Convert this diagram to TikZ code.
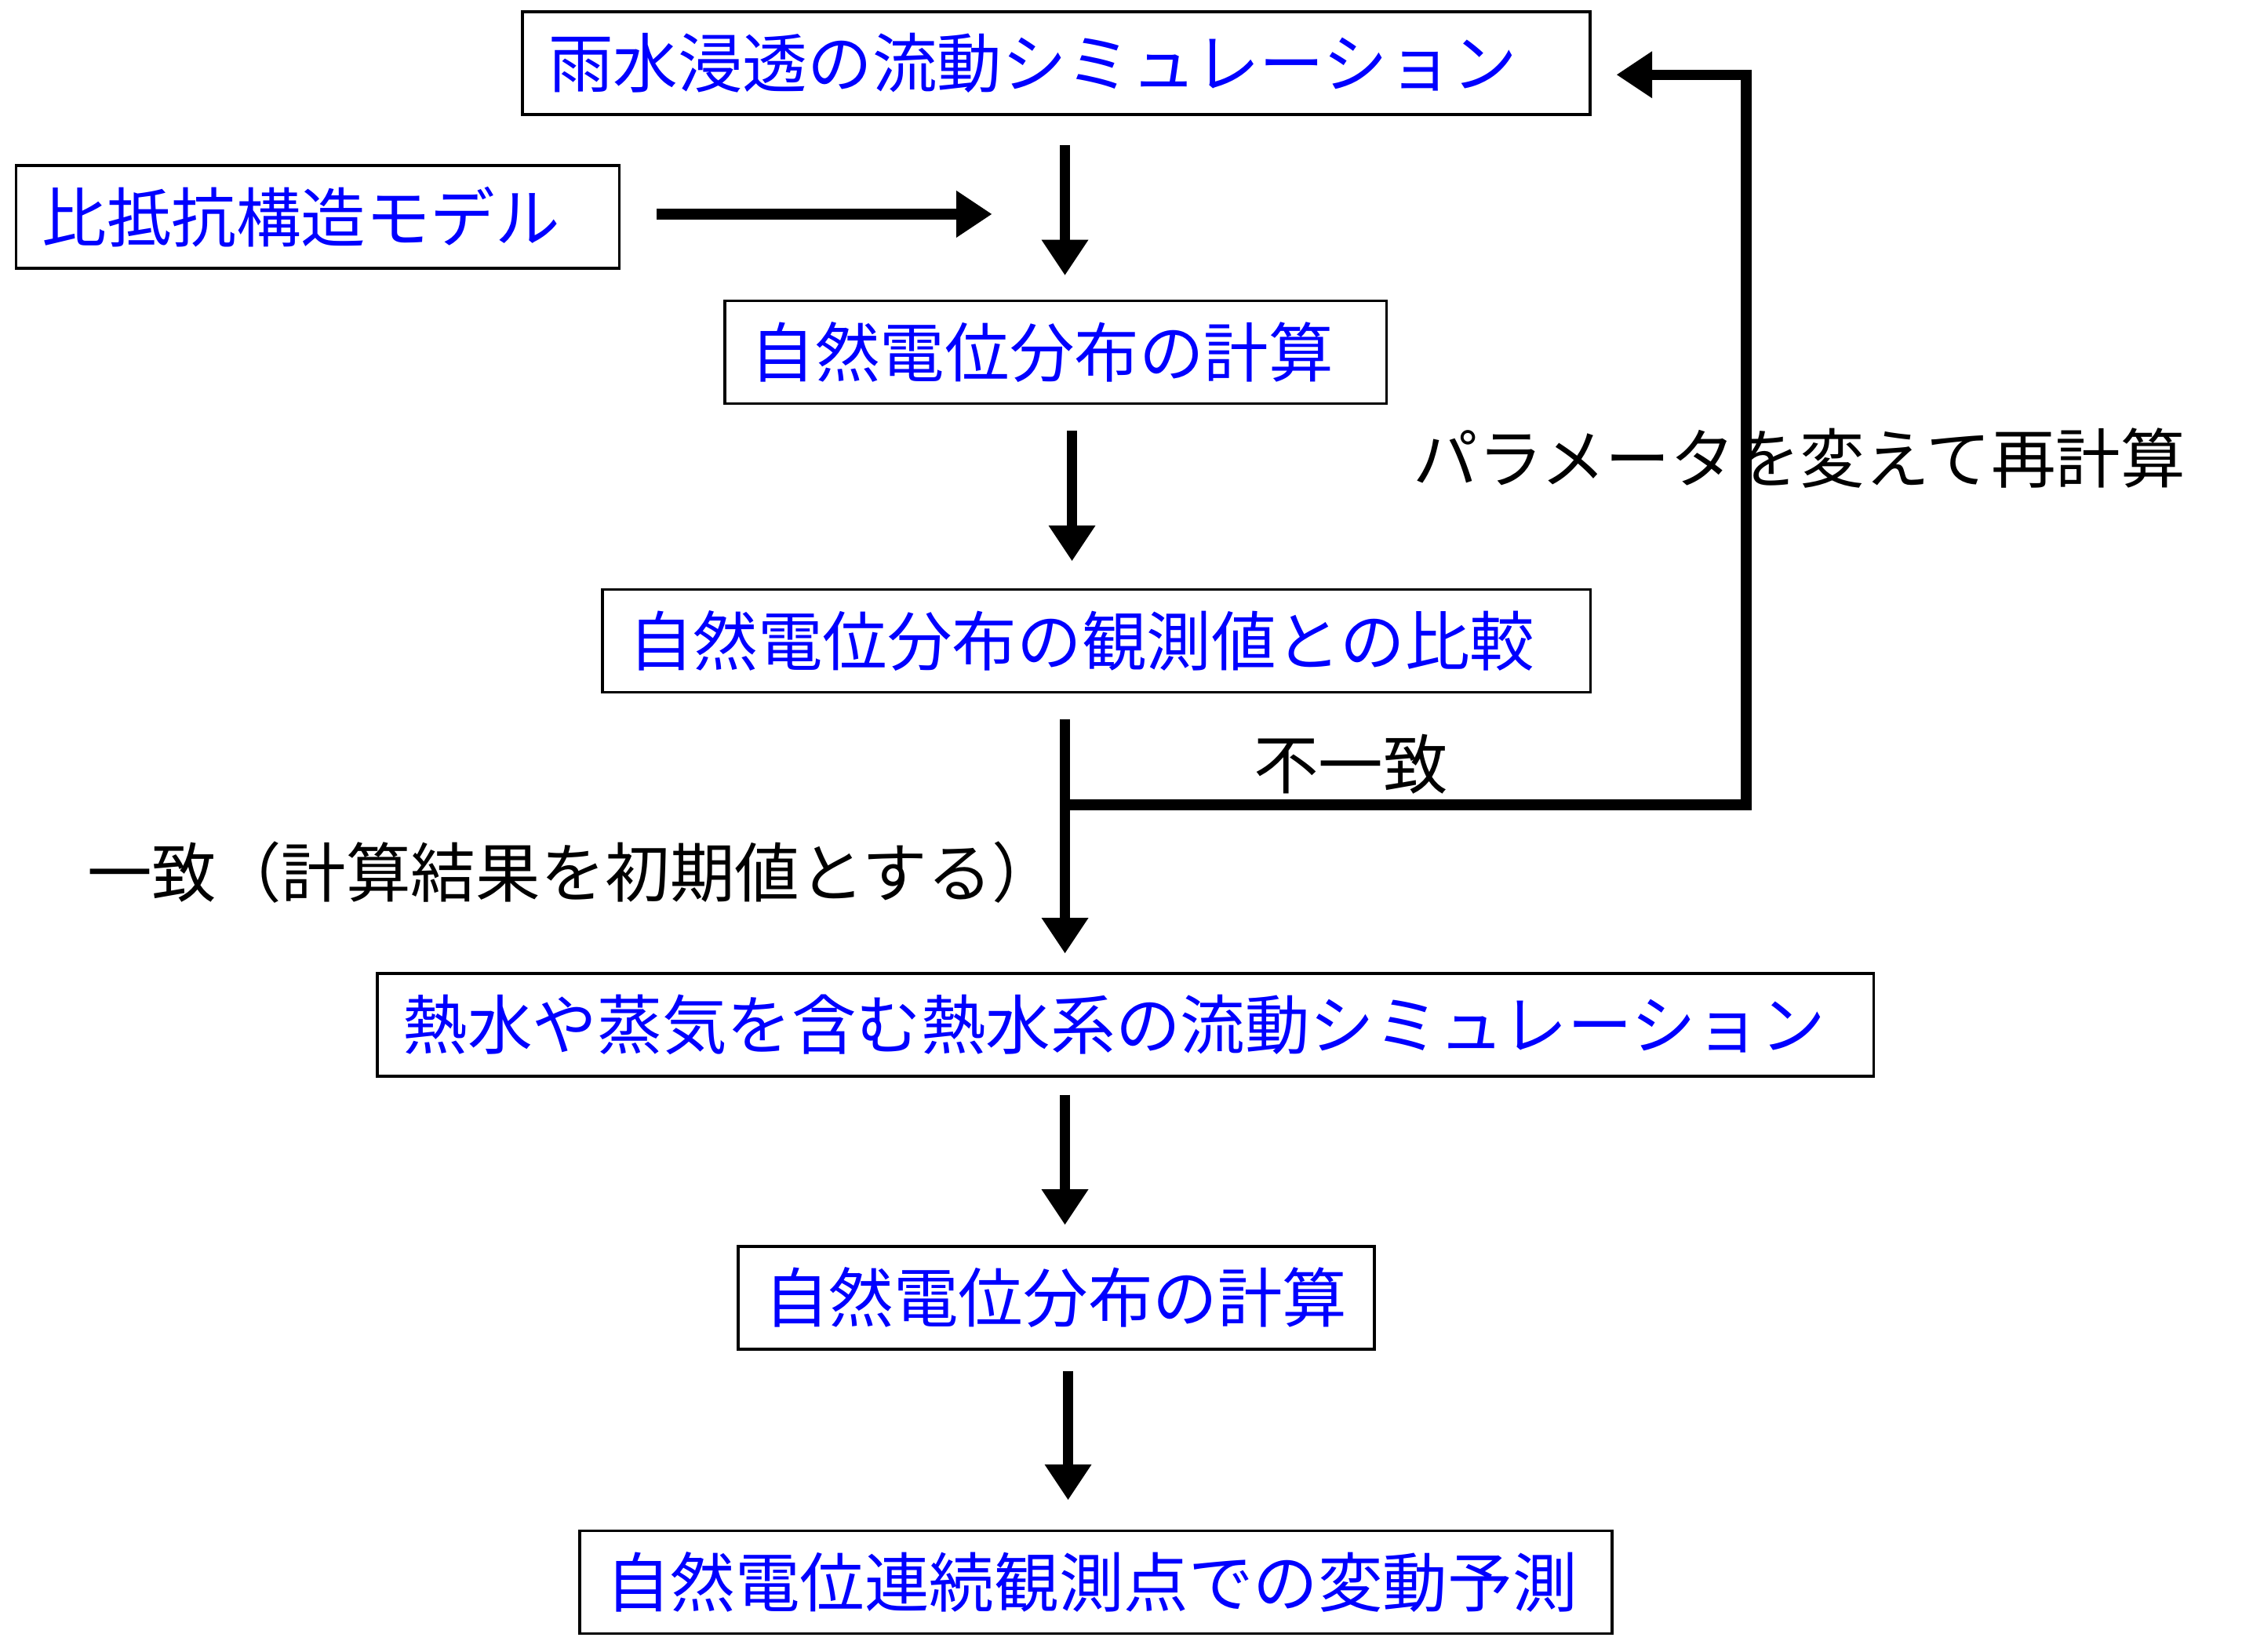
\documentclass[tikz,border=0pt]{standalone}
\usepackage{fontspec}
\setmainfont{Noto Sans CJK JP}
\usetikzlibrary{arrows.meta}

\begin{document}
\begin{tikzpicture}[x=0.01832cm,y=-0.01832cm,
  font=\fontsize{23.5pt}{28pt}\selectfont,
  box/.style={draw,line width=1pt,text=blue,align=left,inner xsep=0.33cm,minimum height=1.31cm},
  arr/.style={line width=3.8pt,-{Triangle[length=0.45cm,width=0.6cm,line width=0pt]}}]
\useasboundingbox (0,0) rectangle (1560,1149);
%
% boxes
\node[box,text width=12.95cm] (rain) at (735,44) {雨水浸透の流動シミュレーション};
\node[box,text width=7.03cm] (model) at (221,151) {比抵抗構造モデル};
\node[box,text width=7.78cm] (calcA) at (734.5,245) {自然電位分布の計算};
\node[box,text width=11.94cm] (comp) at (763,446) {自然電位分布の観測値との比較};
\node[box,text width=18.42cm] (hydro) at (783,713) {熱水や蒸気を含む熱水系の流動シミュレーション};
\node[box,text width=7.45cm] (calcB) at (735,903) {自然電位分布の計算};
\node[box,text width=12.5cm] (pred) at (762.5,1101) {自然電位連続観測点での変動予測};

% labels
\node (ng) at (940,532) {不一致};
\node (redo) at (1252,319) {パラメータを変えて再計算};
\node (ok) at (398,607) {一致（計算結果を初期値とする）};

% arrows
\coordinate (spine) at (741,0);
\coordinate (join) at (690,149);
\coordinate (split) at (741,560);
\coordinate (turn) at (1215,560);
\coordinate (back) at (1125,52);
\draw[arr,shorten <=0.46cm] (model.east |- join) -- (join);
\draw[arr,shorten <=0.37cm,shorten >=0.31cm] (rain.south -| spine) -- (calcA.north -| spine);
\draw[arr,shorten <=0.33cm,shorten >=0.35cm] ([xshift=0.09cm]calcA.south -| spine) -- ([xshift=0.09cm]comp.north -| spine);
\draw[arr,shorten <=0.33cm,shorten >=0.24cm] (comp.south -| spine) -- (hydro.north -| spine);
\draw[arr] (split) -- (turn) |- (back);
\draw[arr,shorten <=0.22cm,shorten >=0.26cm] (hydro.south -| spine) -- (calcB.north -| spine);
\draw[arr,shorten <=0.26cm,shorten >=0.38cm] ([xshift=0.04cm]calcB.south -| spine) -- ([xshift=0.04cm]pred.north -| spine);
\end{tikzpicture}
\end{document}
